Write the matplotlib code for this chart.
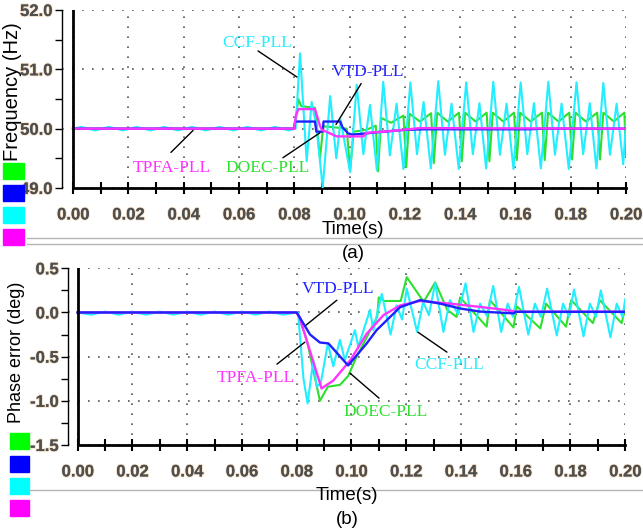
import matplotlib
matplotlib.use("Agg")
import matplotlib.pyplot as plt
import matplotlib.patheffects as pe
from matplotlib.lines import Line2D
from matplotlib.patches import Rectangle
from matplotlib.ticker import MultipleLocator, FormatStrFormatter

plt.rcParams["axes.unicode_minus"] = False

# ---- (a) frequency (Hz) ----
fa_t_ccf = [0.000, 0.003, 0.008, 0.013, 0.018, 0.023, 0.028, 0.033, 0.038, 0.043, 0.048,
            0.053, 0.058, 0.063, 0.068, 0.073, 0.078, 0.0805, 0.0821, 0.0845, 0.0863,
            0.0880, 0.0903, 0.0930, 0.0952, 0.0968, 0.0983, 0.1002,
            0.1026, 0.1050, 0.1074, 0.1099, 0.1122, 0.1146, 0.1170, 0.1195,
            0.1220, 0.1244, 0.1268, 0.1294, 0.1321, 0.1345, 0.1369, 0.1395,
            0.1422, 0.1446, 0.1470, 0.1494, 0.1520, 0.1544, 0.1568, 0.1593,
            0.1619, 0.1643, 0.1667, 0.1692, 0.1719, 0.1743, 0.1767, 0.1793,
            0.1821, 0.1845, 0.1869, 0.1893, 0.1918, 0.1942, 0.1966, 0.1990, 0.2000]
fa_ccf = [50.00, 50.03, 49.97, 50.03, 49.97, 50.03, 49.97, 50.03, 49.97, 50.03, 49.97,
          50.03, 49.97, 50.03, 49.97, 50.03, 49.97, 50.00, 51.27, 49.45, 50.45,
          50.05, 49.00, 50.55, 49.50, 50.15, 49.75, 49.27,
          50.74, 49.57, 50.40, 49.30, 50.79, 49.55, 50.42, 49.32,
          50.78, 49.57, 50.45, 49.33, 50.80, 49.56, 50.42, 49.32,
          50.78, 49.57, 50.43, 49.33, 50.79, 49.56, 50.42, 49.32,
          50.78, 49.57, 50.43, 49.33, 50.79, 49.56, 50.42, 49.32,
          50.78, 49.57, 50.43, 49.33, 50.77, 49.56, 50.42, 49.40, 50.10]

fa_t_doec = [0.000, 0.0800, 0.0806, 0.0815, 0.0825, 0.0875, 0.0884, 0.0893, 0.0905, 0.0950,
             0.0990, 0.1002, 0.1015, 0.1060, 0.1095, 0.1103, 0.1115, 0.1150, 0.1195,
             0.1205, 0.1217, 0.1255, 0.1295, 0.1305, 0.1317, 0.1355, 0.1396,
             0.1406, 0.1418, 0.1456, 0.1496, 0.1506, 0.1518, 0.1556, 0.1595,
             0.1605, 0.1617, 0.1655, 0.1696, 0.1706, 0.1718, 0.1756, 0.1795,
             0.1805, 0.1817, 0.1855, 0.1896, 0.1906, 0.1918, 0.1956, 0.1994, 0.2000]
fa_doec = [50.00, 50.00, 50.20, 50.50, 50.38, 50.35, 49.95, 49.50, 50.04, 50.02,
           50.00, 49.28, 49.95, 49.98, 50.05, 49.28, 50.18, 50.10, 50.22,
           49.35, 50.25, 50.12, 50.26, 49.42, 50.27, 50.12, 50.27,
           49.45, 50.27, 50.12, 50.27, 49.45, 50.27, 50.12, 50.27,
           49.47, 50.27, 50.12, 50.27, 49.47, 50.27, 50.12, 50.27,
           49.48, 50.27, 50.12, 50.27, 49.48, 50.27, 50.12, 50.27, 49.55]

fa_t_vtd = [0.000, 0.0800, 0.0803, 0.0875, 0.0880, 0.0903, 0.0906, 0.0966, 0.0975, 0.0995,
            0.1010, 0.1060, 0.1100, 0.1150, 0.1200, 0.1270, 0.1650, 0.1700, 0.2000]
fa_vtd = [50.00, 50.00, 50.12, 50.12, 49.95, 49.95, 50.12, 50.12, 50.02, 49.92,
          49.90, 49.92, 49.94, 49.96, 49.98, 49.99, 49.99, 50.00, 50.00]

fa_t_tpfa = [0.000, 0.0800, 0.0806, 0.0815, 0.0875, 0.0893, 0.0900, 0.0954, 0.1050, 0.1062,
             0.1150, 0.1255, 0.2000]
fa_tpfa = [50.00, 50.00, 50.22, 50.33, 50.33, 50.05, 49.98, 49.87, 49.87, 49.93,
           49.96, 50.01, 50.00]

# ---- (b) phase error (deg) ----
pb_t_ccf = [0.000, 0.005, 0.010, 0.015, 0.020, 0.025, 0.030, 0.035, 0.040, 0.045, 0.050,
            0.055, 0.060, 0.065, 0.070, 0.075, 0.0800, 0.0805, 0.0825, 0.0840, 0.0861,
            0.0873, 0.0888, 0.0914, 0.0934, 0.0958, 0.0976, 0.1013, 0.1025, 0.1068, 0.1080,
            0.1111, 0.1143, 0.1165, 0.1185, 0.1202, 0.1240, 0.1262, 0.1283,
            0.1306, 0.1336, 0.1360, 0.1390, 0.1417, 0.1446, 0.1470, 0.1495,
            0.1518, 0.1547, 0.1571, 0.1590, 0.1612, 0.1646, 0.1670, 0.1692,
            0.1715, 0.1750, 0.1773, 0.1795, 0.1813, 0.1848, 0.1871, 0.1893,
            0.1911, 0.1946, 0.1969, 0.1990, 0.2000]
pb_ccf = [0.00, -0.025, 0.01, -0.025, 0.01, -0.025, 0.01, -0.025, 0.01, -0.025, 0.01,
          -0.025, 0.01, -0.025, 0.01, -0.025, 0.00, 0.00, -0.75, -1.03, -0.54,
          -0.84, -0.80, -0.35, -0.61, -0.31, -0.54, -0.20, -0.39, 0.03, -0.20,
          0.21, -0.25, 0.08, -0.08, 0.27, -0.22, 0.12, -0.03,
          0.33, -0.22, 0.14, -0.02, 0.33, -0.22, 0.10, -0.04,
          0.30, -0.22, 0.10, -0.05, 0.29, -0.25, 0.10, -0.05,
          0.27, -0.26, 0.10, -0.05, 0.26, -0.27, 0.10, -0.05,
          0.25, -0.28, 0.10, -0.05, 0.15]

pb_t_doec = [0.000, 0.0800, 0.0805, 0.0837, 0.0885, 0.0914, 0.0958, 0.0988, 0.1019, 0.1056,
             0.1094, 0.1100, 0.1120, 0.1180, 0.1202, 0.1264, 0.1306, 0.1350, 0.1384,
             0.1397, 0.1494, 0.1506, 0.1592, 0.1604, 0.1690, 0.1711, 0.1784, 0.1803,
             0.1882, 0.1907, 0.1987, 0.2000]
pb_doec = [0.00, 0.00, -0.02, -0.31, -1.00, -0.84, -0.82, -0.72, -0.50, -0.28,
           -0.05, 0.17, 0.13, 0.13, 0.40, 0.12, 0.34, 0.03, -0.05,
           0.17, -0.16, 0.14, -0.17, 0.07, -0.18, 0.10, -0.16, 0.14,
           -0.12, 0.14, -0.12, 0.05]

pb_t_vtd = [0.000, 0.0800, 0.0812, 0.0849, 0.0885, 0.0916, 0.0988, 0.1056, 0.1092, 0.1178,
            0.1251, 0.1324, 0.1397, 0.1470, 0.1592, 0.1600, 0.2000]
pb_vtd = [0.00, 0.00, -0.06, -0.25, -0.34, -0.35, -0.60, -0.35, -0.20, 0.06,
          0.14, 0.10, 0.045, 0.01, -0.01, 0.007, 0.007]

pb_t_tpfa = [0.000, 0.0800, 0.0810, 0.0891, 0.0934, 0.0996, 0.1056, 0.1117, 0.1178, 0.1251,
             0.1361, 0.1470, 0.1570, 0.1600, 0.2000]
pb_tpfa = [0.00, 0.00, -0.05, -0.86, -0.77, -0.54, -0.24, -0.03, 0.08, 0.13,
           0.10, 0.063, 0.026, 0.01, 0.01]

line_colors = {"DOEC-PLL": "#2ee02e", "VTD-PLL": "#2020ff",
               "CCF-PLL": "#22eeff", "TPFA-PLL": "#ff33ff"}
key_colors = ["#00ff00", "#0000ff", "#00ffff", "#ff00ff"]

W, H = 643, 529


def fx(x):
    return x / W


def fy(y):
    return 1 - y / H


fig = plt.figure(figsize=(W / 100, H / 100), dpi=100)
ax1 = fig.add_axes([fx(62), fy(188), fx(626) - fx(62), fy(10) - fy(188)])
ax2 = fig.add_axes([fx(68.3), fy(445), fx(625.2) - fx(68.3), fy(268.3) - fy(445)])

tick_fx = [pe.withStroke(linewidth=1.4, foreground="#f4e0c8"), pe.Normal()]


def style(ax, x0, ylim, ymaj, ymin_step, yfmt):
    ax.set_xlim(x0, 0.2)
    ax.set_ylim(*ylim)
    ax.xaxis.set_major_locator(MultipleLocator(0.02))
    ax.xaxis.set_minor_locator(MultipleLocator(0.01))
    ax.yaxis.set_major_locator(MultipleLocator(ymaj))
    ax.yaxis.set_minor_locator(MultipleLocator(ymin_step))
    ax.xaxis.set_major_formatter(FormatStrFormatter("%.2f"))
    ax.yaxis.set_major_formatter(FormatStrFormatter(yfmt))
    for s in ("top", "right"):
        ax.spines[s].set_visible(False)
    ax.spines["left"].set_linewidth(1)
    ax.spines["bottom"].set_linewidth(2)
    ax.spines["bottom"].set_bounds(0, 0.2)
    ax.axvline(0, color="black", lw=2, zorder=6)
    ax.grid(True, which="major", color="#555555", linestyle=(0, (1, 5)), lw=1.2)
    ax.tick_params(axis="y", which="both", direction="out", length=5, width=1, pad=2)
    ax.tick_params(axis="x", which="both", direction="inout", length=8, width=1.5, pad=10)
    for lab in ax.get_xticklabels() + ax.get_yticklabels():
        lab.set_fontfamily("Liberation Sans")
        lab.set_fontsize(12)
        lab.set_fontweight("bold")
        lab.set_color("#4f4f4f")
        lab.set_path_effects(tick_fx)


style(ax1, -0.004, (49, 52), 1.0, 0.5, "%.1f")
style(ax2, -0.0034, (-1.5, 0.5), 0.5, 0.25, "%.1f")

# frequency curves
ax1.plot(fa_t_doec, fa_doec, color=line_colors["DOEC-PLL"], lw=1.5, zorder=2)
ax1.plot(fa_t_ccf, fa_ccf, color=line_colors["CCF-PLL"], lw=1.5, zorder=3)
ax1.plot(fa_t_vtd, fa_vtd, color=line_colors["VTD-PLL"], lw=1.7, zorder=4)
ax1.plot(fa_t_tpfa, fa_tpfa, color=line_colors["TPFA-PLL"], lw=1.7, zorder=5)

# phase error curves
ax2.plot(pb_t_doec, pb_doec, color=line_colors["DOEC-PLL"], lw=1.5, zorder=2)
ax2.plot(pb_t_ccf, pb_ccf, color=line_colors["CCF-PLL"], lw=1.5, zorder=3)
ax2.plot(pb_t_tpfa, pb_tpfa, color=line_colors["TPFA-PLL"], lw=1.7, zorder=4)
ax2.plot(pb_t_vtd, pb_vtd, color=line_colors["VTD-PLL"], lw=1.7, zorder=5)

label_font = dict(family="Liberation Serif", fontsize=12.5, ha="center", va="center")


def callout(ax, name, text_xy, start, end):
    ax.annotate("", xy=end, xytext=start,
                arrowprops=dict(arrowstyle="-", color="black", lw=1,
                                shrinkA=0, shrinkB=0), zorder=7)
    ax.text(*text_xy, name, color=line_colors[name], zorder=7, **label_font)


callout(ax1, "CCF-PLL", (0.0665, 51.45), (0.0669, 51.31), (0.0810, 50.87))
callout(ax1, "VTD-PLL", (0.1067, 50.96), (0.1042, 50.76), (0.0951, 50.07))
callout(ax1, "TPFA-PLL", (0.0358, 49.33), (0.0354, 49.60), (0.0434, 49.97))
callout(ax1, "DOEC-PLL", (0.0705, 49.33), (0.0759, 49.51), (0.0893, 49.93))

callout(ax2, "VTD-PLL", (0.0951, 0.264), (0.0947, 0.139), (0.0834, -0.144))
callout(ax2, "TPFA-PLL", (0.0651, -0.744), (0.0728, -0.585), (0.0830, -0.336))
callout(ax2, "CCF-PLL", (0.1357, -0.597), (0.1349, -0.449), (0.1243, -0.223))
callout(ax2, "DOEC-PLL", (0.1126, -1.128), (0.1101, -0.970), (0.0995, -0.687))

# axis titles
fig.text(fx(12), fy(92), "Frequency (Hz)", rotation=90, ha="center", va="center",
         fontsize=14.5, family="Liberation Sans")
fig.text(fx(17), fy(352), "Phase error (deg)", rotation=90, ha="center", va="center",
         fontsize=13, family="Liberation Sans")
fig.text(fx(353), fy(230), "Time(s)", ha="center", va="center", fontsize=13.5,
         family="Liberation Sans")
fig.text(fx(353), fy(253), "(a)", ha="center", va="center", fontsize=13.5,
         family="Liberation Sans")
fig.text(fx(347), fy(495), "Time(s)", ha="center", va="center", fontsize=13.5,
         family="Liberation Sans")
fig.text(fx(347), fy(520), "(b)", ha="center", va="center", fontsize=13.5,
         family="Liberation Sans")

# colour keys down the left edge
for i, c in enumerate(key_colors):
    top = [163, 185, 207, 229][i]
    fig.add_artist(Rectangle((fx(3), fy(top + 16)), fx(21), 16 / H, color=c,
                             transform=fig.transFigure))
    top = [433, 456, 478, 500][i]
    fig.add_artist(Rectangle((fx(10), fy(top + 16)), fx(19), 16 / H, color=c,
                             transform=fig.transFigure))

# panel separators
for y in (238.3, 244.3):
    fig.add_artist(Line2D([fx(27), 1], [fy(y), fy(y)], color="#b4b4b4", lw=1))
fig.add_artist(Line2D([fx(30), 1], [fy(490), fy(490)], color="#b4b4b4", lw=1))

fig.savefig("out.png", dpi=100)
